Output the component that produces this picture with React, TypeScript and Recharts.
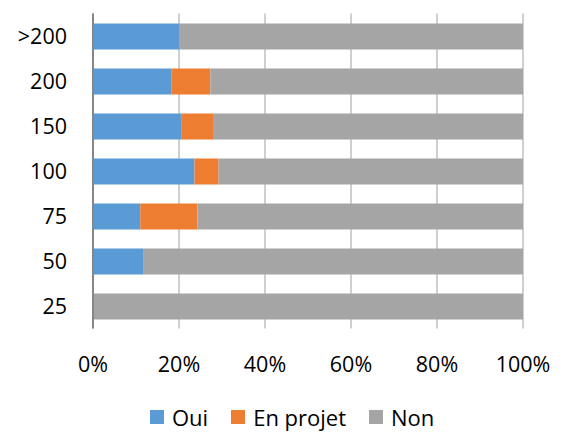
import React from 'react';
import { BarChart, Bar, XAxis, YAxis, CartesianGrid } from 'recharts';

const categories = ['>200', '200', '150', '100', '75', '50', '25'];
const oui = [20, 18.3, 20.5, 23.6, 11, 11.8, 0];
const enProjet = [0, 9, 7.6, 5.6, 13.3, 0, 0];
const non = [80, 72.7, 71.9, 70.8, 75.7, 88.2, 100];
const xTicks = [0, 20, 40, 60, 80, 100];

const seriesNames = ['Oui', 'En projet', 'Non'];
const colors = ['#5B9BD5', '#ED7D31', '#A5A5A5'];

const data = categories.map((c, i) => ({
  name: c,
  oui: oui[i],
  enProjet: enProjet[i],
  non: non[i],
}));

const FONT = '"Open Sans", Lato, sans-serif';

export default function App() {
  return (
    <div style={{ position: 'absolute', left: 0, top: 0, width: 561, height: 432, background: '#fff', overflow: 'hidden' }}>
      <BarChart
        width={561}
        height={432}
        data={data}
        layout="vertical"
        margin={{ top: 13.5, right: 38, left: 0, bottom: 63.5 }}
        barSize={26}
      >
        <CartesianGrid horizontal={false} vertical={true} stroke="#a0a0a0" strokeWidth={1} />
        <XAxis
          type="number"
          domain={[0, 100]}
          ticks={xTicks}
          tickFormatter={(v: number) => `${v}%`}
          axisLine={false}
          tickLine={false}
          tickSize={0}
          tickMargin={28}
          height={40}
          interval={0}
          tick={{ fill: '#000', fontSize: 21.5, fontFamily: FONT }}
        />
        <YAxis
          type="category"
          dataKey="name"
          width={93}
          axisLine={{ stroke: '#868686', strokeWidth: 2 }}
          tickLine={false}
          tickSize={0}
          tickMargin={26}
          interval={0}
          tick={{ fill: '#000', fontSize: 21.5, fontFamily: FONT }}
        />
        <Bar dataKey="oui" stackId="a" fill={colors[0]} isAnimationActive={false} />
        <Bar dataKey="enProjet" stackId="a" fill={colors[1]} isAnimationActive={false} />
        <Bar dataKey="non" stackId="a" fill={colors[2]} isAnimationActive={false} />
      </BarChart>
      <div
        style={{
          position: 'absolute',
          left: 150,
          top: 404,
          height: 26,
          display: 'flex',
          alignItems: 'center',
          fontFamily: FONT,
          fontSize: 22,
          lineHeight: '26px',
          color: '#000',
          whiteSpace: 'nowrap',
        }}
      >
        {seriesNames.map((n, i) => (
          <div key={n} style={{ display: 'flex', alignItems: 'center', marginRight: 23 }}>
            <span style={{ display: 'inline-block', width: 14, height: 14, background: colors[i], marginRight: 8 }} />
            <span>{n}</span>
          </div>
        ))}
      </div>
    </div>
  );
}
